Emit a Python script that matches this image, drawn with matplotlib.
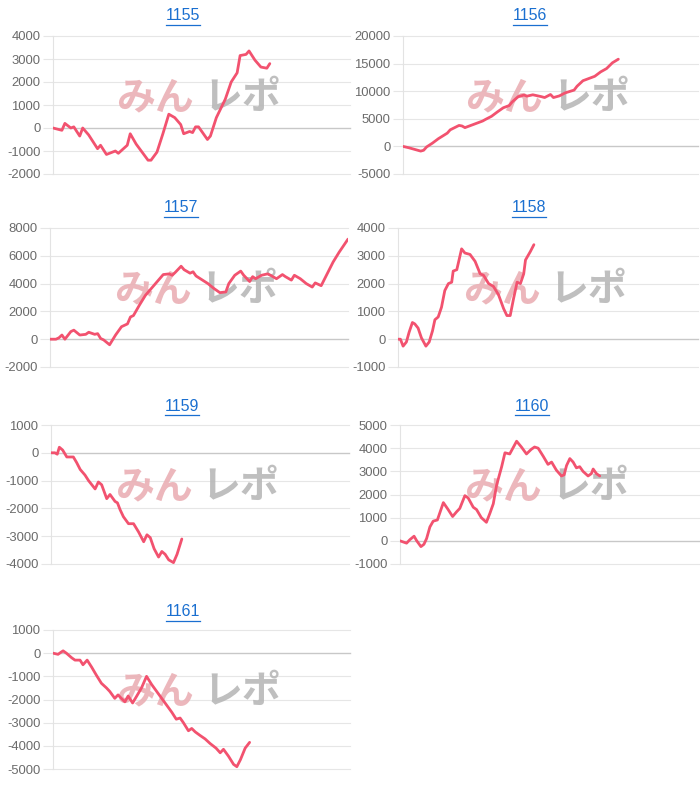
import matplotlib
matplotlib.use("Agg")
import matplotlib.pyplot as plt
from matplotlib.lines import Line2D

plt.rcParams['font.family'] = ['Liberation Sans', 'DejaVu Sans']

titles = ["1155", "1156", "1157", "1158", "1159", "1160", "1161"]

x1155 = [0, 3, 4, 6, 7, 9, 10, 12, 15, 16, 18, 21, 22, 25, 26, 28, 32, 33, 35, 37, 39, 41, 43, 44, 46,
         47, 48, 49, 52, 53, 55, 58, 60, 62, 63, 65, 66, 68, 70, 72, 73]
y1155 = [0, -100, 200, 0, 50, -350, 0, -300, -900, -750, -1150, -1000, -1100, -750, -250, -700, -1400,
         -1400, -1050, -250, 600, 450, 150, -250, -150, -200, 50, 50, -500, -350, 450, 1250, 2000, 2400,
         3150, 3200, 3350, 2950, 2650, 2600, 2800]

x1156 = [0, 2, 6, 7, 8, 10, 12, 15, 16, 19, 20, 21, 24, 27, 28, 30, 32, 34, 36, 37, 39, 41, 42, 44, 47,
         48, 50, 51, 53, 55, 58, 59, 61, 63, 65, 67, 69, 71, 73]
y1156 = [0, -250, -850, -700, -100, 600, 1400, 2400, 3000, 3800, 3700, 3400, 4000, 4600, 4900, 5450,
         6250, 7000, 7400, 8050, 9000, 9300, 9100, 9350, 9000, 8850, 9400, 8850, 9150, 9700, 10200,
         10900, 11900, 12300, 12700, 13500, 14100, 15150, 15800]

x1157 = [0, 2, 3, 4, 5, 7, 8, 10, 12, 13, 15, 16, 17, 18, 20, 22, 24, 26, 27, 28, 30, 32, 35, 36, 38,
         40, 41, 42, 44, 45, 47, 48, 49, 53, 55, 57, 59, 60, 62, 64, 65, 67, 68, 69, 71, 73, 74, 76, 78,
         79, 81, 82, 84, 86, 88, 89, 91, 93, 95, 97, 100]
y1157 = [0, 0, 100, 300, 0, 550, 650, 300, 350, 500, 350, 400, 50, -50, -400, 300, 900, 1100, 1600,
         1700, 2450, 3150, 3900, 4150, 4650, 4700, 4600, 4800, 5250, 5000, 4750, 4850, 4550, 4000, 3650,
         3350, 3400, 4000, 4600, 4900, 4600, 4150, 4500, 4350, 4600, 4700, 4600, 4350, 4650, 4500, 4250,
         4600, 4350, 4000, 3750, 4050, 3850, 4700, 5550, 6250, 7200]

x1158 = [0, 0.8, 1.7, 2.8, 3.7, 4.8, 5.6, 6.7, 7.8, 9.3, 10.4, 11.5, 12.3, 13.4, 14.5, 15.6, 16.8,
         17.9, 18.4, 19.6, 21.2, 22.3, 24.0, 25.7, 27.4, 28.5, 30.2, 31.8, 33.5, 35.2, 36.3, 37.4, 38.5,
         39.7, 40.8, 41.9, 42.5, 44.1, 45.3]
y1158 = [0, 0, -250, -100, 250, 600, 550, 400, 50, -250, -100, 300, 700, 800, 1150, 1750, 2000, 2050,
         2450, 2500, 3250, 3100, 3050, 2800, 2350, 2300, 2000, 1900, 1600, 1100, 850, 850, 1450, 2050,
         2000, 2350, 2850, 3150, 3400]

x1159 = [0, 1.3, 2.1, 2.8, 3.9, 5.3, 6.4, 7.5, 8.6, 9.8, 11.4, 12.6, 13.7, 14.8, 15.9, 17.0, 18.7,
         19.8, 21.5, 22.3, 23.2, 24.3, 26.0, 27.7, 29.4, 31.1, 32.2, 33.3, 34.6, 36.1, 37.2, 38.3, 39.5,
         41.1, 42.3, 43.9]
y1159 = [0, 0, -50, 200, 100, -150, -150, -150, -350, -600, -800, -1000, -1150, -1300, -1050, -1150,
         -1650, -1500, -1750, -1800, -2050, -2300, -2550, -2550, -2850, -3200, -2950, -3050, -3450,
         -3750, -3550, -3650, -3850, -3950, -3650, -3100]

x1160 = [0, 1.1, 2.2, 3.3, 4.7, 5.6, 7.0, 8.0, 8.9, 10.0, 11.1, 12.5, 14.5, 16.1, 17.6, 18.9, 20.0,
         21.7, 22.8, 24.5, 25.6, 27.2, 28.9, 30.1, 31.2, 32.3, 34.0, 35.1, 36.7, 39.0, 40.6, 42.3, 43.9,
         45.0, 46.2, 47.9, 49.5, 50.7, 52.3, 54.0, 54.9, 55.7, 56.8, 57.9, 59.0, 60.1, 61.2, 62.9, 64.0,
         64.6, 65.7, 66.8]
y1160 = [0, -50, -100, 50, 200, 0, -250, -150, 100, 600, 850, 900, 1650, 1350, 1050, 1250, 1400, 1950,
         1850, 1450, 1350, 1000, 800, 1200, 1600, 2400, 3200, 3800, 3750, 4300, 4050, 3750, 3950, 4050,
         4000, 3650, 3300, 3400, 3050, 2800, 2850, 3250, 3550, 3400, 3150, 3200, 3000, 2800, 2900, 3100,
         2900, 2800]

x1161 = [0, 1.7, 2.8, 3.4, 4.5, 6.3, 7.4, 9.1, 10.1, 11.5, 13.0, 14.6, 16.3, 18.0, 19.1, 20.8, 21.9,
         23.0, 24.2, 25.3, 26.8, 28.2, 29.8, 31.5, 33.2, 34.9, 36.6, 38.3, 40.0, 41.5, 42.8, 43.9, 45.6,
         46.7, 47.9, 49.5, 51.2, 52.9, 54.9, 56.3, 57.4, 59.1, 60.8, 61.9, 63.1, 64.7, 66.2]
y1161 = [0, -50, 50, 100, 0, -200, -300, -300, -500, -300, -600, -950, -1300, -1500, -1650, -1950,
         -1800, -1950, -2100, -1850, -2150, -1850, -1500, -1000, -1350, -1650, -1950, -2250, -2550,
         -2850, -2800, -3000, -3350, -3250, -3400, -3550, -3700, -3900, -4100, -4300, -4150, -4450,
         -4800, -4900, -4600, -4100, -3850]

yticks = [
    [-2000, -1000, 0, 1000, 2000, 3000, 4000],
    [-5000, 0, 5000, 10000, 15000, 20000],
    [-2000, 0, 2000, 4000, 6000, 8000],
    [-1000, 0, 1000, 2000, 3000, 4000],
    [-4000, -3000, -2000, -1000, 0, 1000],
    [-1000, 0, 1000, 2000, 3000, 4000, 5000],
    [-5000, -4000, -3000, -2000, -1000, 0, 1000],
]
xs = [x1155, x1156, x1157, x1158, x1159, x1160, x1161]
ys = [y1155, y1156, y1157, y1158, y1159, y1160, y1161]

W, H = 700, 794
fig = plt.figure(figsize=(W / 100, H / 100), dpi=100)

# pixel boxes (left, top, right, bottom)
boxes = [
    (53, 36, 350, 174), (403, 36, 698, 174),
    (50, 228, 348, 367), (398, 228, 698, 367),
    (51, 425, 349, 564), (400, 425, 699, 564),
    (53, 630, 350, 769),
]
title_pos = [(183, 16), (530, 16), (181, 208), (529, 208), (182, 407), (532, 407), (183, 612)]

LINE = '#f2526f'
GRID = '#e6e6e6'
TEXTC = '#6b6b6b'
BLUE = '#1a6fd0'

title_objs = []
for i in range(7):
    l, t, r, b = boxes[i]
    ax = fig.add_axes([l / W, 1 - b / H, (r - l) / W, (b - t) / H])
    ax.set_xlim(0, 100)
    tk = yticks[i]
    ax.set_ylim(tk[0], tk[-1])
    ax.set_yticks(tk)
    ax.set_yticklabels([str(v) for v in tk])
    ax.set_xticks([])
    for s in ['top', 'right', 'bottom']:
        ax.spines[s].set_visible(False)
    ax.spines['left'].set_color('#e3e3e3')
    ax.spines['left'].set_linewidth(0.8)
    ax.tick_params(axis='y', length=7, width=0.8, color=GRID, pad=2,
                   labelsize=9.4, labelcolor=TEXTC)
    for v in tk:
        ax.axhline(v, color=('#c8c8c8' if v == 0 else GRID), lw=(1.0 if v == 0 else 0.8),
                   zorder=1, clip_on=False)
    ax.text(0.475, 0.555, 'みん', transform=ax.transAxes, ha='right', va='center',
            fontsize=28, fontweight='bold', color='#eab0b5', alpha=0.9,
            family=['Noto Sans CJK JP', 'DejaVu Sans'], zorder=2)
    ax.text(0.505, 0.555, 'レポ', transform=ax.transAxes, ha='left', va='center',
            fontsize=28, fontweight='bold', color='#b8b8b8', alpha=0.9,
            family=['Noto Sans CJK JP', 'DejaVu Sans'], zorder=2)
    ax.plot(xs[i], ys[i], color=LINE, lw=2.0, zorder=3, solid_joinstyle='round',
            solid_capstyle='round')
    tx, ty = title_pos[i]
    to = fig.text(tx / W, 1 - ty / H, titles[i], ha='center', va='center', fontsize=11.5, color=BLUE)
    title_objs.append(to)

fig.canvas.draw()
renderer = fig.canvas.get_renderer()
for to in title_objs:
    bb = to.get_window_extent(renderer)
    yline = bb.y0 - 1
    fig.add_artist(Line2D([bb.x0 / W, bb.x1 / W], [yline / H, yline / H], color=BLUE, lw=0.9,
                          transform=fig.transFigure))

fig.savefig('out.png', dpi=100, facecolor='white')
